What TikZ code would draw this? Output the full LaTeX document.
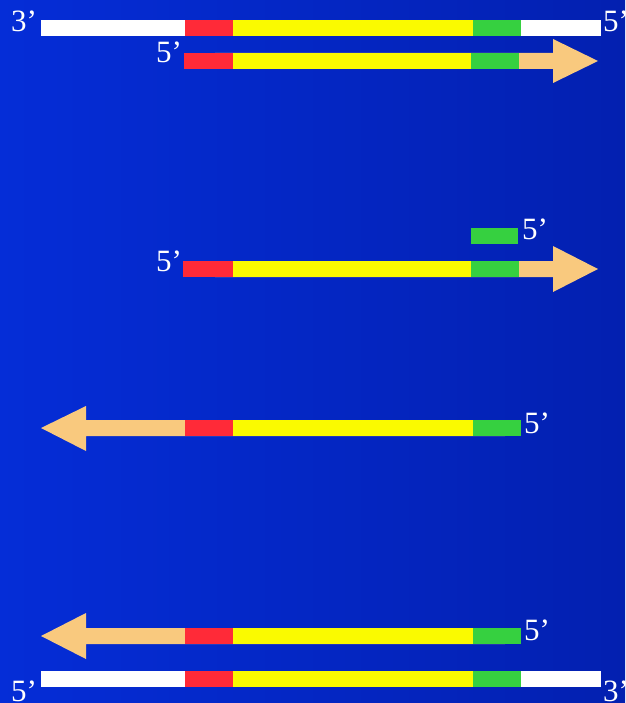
\documentclass[tikz,border=0pt]{standalone}
\usepackage{fontspec}
\setmainfont{Liberation Serif}
\definecolor{bgl}{RGB}{5,45,215}
\definecolor{bgr}{RGB}{3,32,176}
\definecolor{pred}{RGB}{255,42,56}
\definecolor{pyel}{RGB}{250,250,0}
\definecolor{pgrn}{RGB}{54,208,64}
\definecolor{ppch}{RGB}{249,201,126}
\tikzset{
  lbl/.style={text=white,inner sep=0pt,anchor=base west,font=\fontsize{31}{31}\selectfont},
  seg/.style={draw=none},
}
\begin{document}
\begin{tikzpicture}[x=1pt,y=-1pt]
\useasboundingbox (0,0) rectangle (625,703);
\shade[left color=bgl,right color=bgr] (0,0) rectangle (625,703);
% ---- row 1: template strand
\fill[white] (41,20) rectangle (601,36);
\fill[pred] (185,20) rectangle (233,36);
\fill[pyel] (233,20) rectangle (473,36);
\fill[pgrn] (473,20) rectangle (521,36);
\node[lbl] (t1) at (11,32) {3’};
\node[lbl] (t2) at (603,32) {5’};
% ---- row 2: new strand with arrow
\fill[ppch] (215,53) -- (553,53) -- (553,39) -- (598,61) -- (553,83) -- (553,69) -- (215,69) -- cycle;
\fill[pred] (184,53) rectangle (233,69);
\fill[pyel] (233,53) rectangle (471,69);
\fill[pgrn] (471,53) rectangle (519,69);
\node[lbl] (t3) at (156,63) {5’};
% ---- row 3: single strand with primer
\fill[pgrn] (471,228) rectangle (518,244);
\node[lbl] (t4) at (522,239) {5’};
\fill[ppch] (215,261) -- (553,261) -- (553,246) -- (598,269) -- (553,292) -- (553,277) -- (215,277) -- cycle;
\fill[pred] (183,261) rectangle (233,277);
\fill[pyel] (233,261) rectangle (471,277);
\fill[pgrn] (471,261) rectangle (519,277);
\node[lbl] (t5) at (156,271) {5’};
% ---- row 4: extended reverse strand
\fill[ppch] (505,420) -- (86,420) -- (86,406) -- (41,428) -- (86,451) -- (86,436) -- (505,436) -- cycle;
\fill[pred] (185,420) rectangle (233,436);
\fill[pyel] (233,420) rectangle (473,436);
\fill[pgrn] (473,420) rectangle (521,436);
\node[lbl] (t6) at (524,433) {5’};
% ---- row 5: reverse strand over template
\fill[ppch] (505,628) -- (86,628) -- (86,613) -- (41,636) -- (86,659) -- (86,644) -- (505,644) -- cycle;
\fill[pred] (185,628) rectangle (233,644);
\fill[pyel] (233,628) rectangle (473,644);
\fill[pgrn] (473,628) rectangle (521,644);
\node[lbl] (t7) at (524,640) {5’};
\fill[white] (41,671) rectangle (601,687);
\fill[pred] (185,671) rectangle (233,687);
\fill[pyel] (233,671) rectangle (473,687);
\fill[pgrn] (473,671) rectangle (521,687);
\node[lbl] (t8) at (11,701) {5’};
\node[lbl] (t9) at (603,701) {3’};
\end{tikzpicture}
\end{document}
